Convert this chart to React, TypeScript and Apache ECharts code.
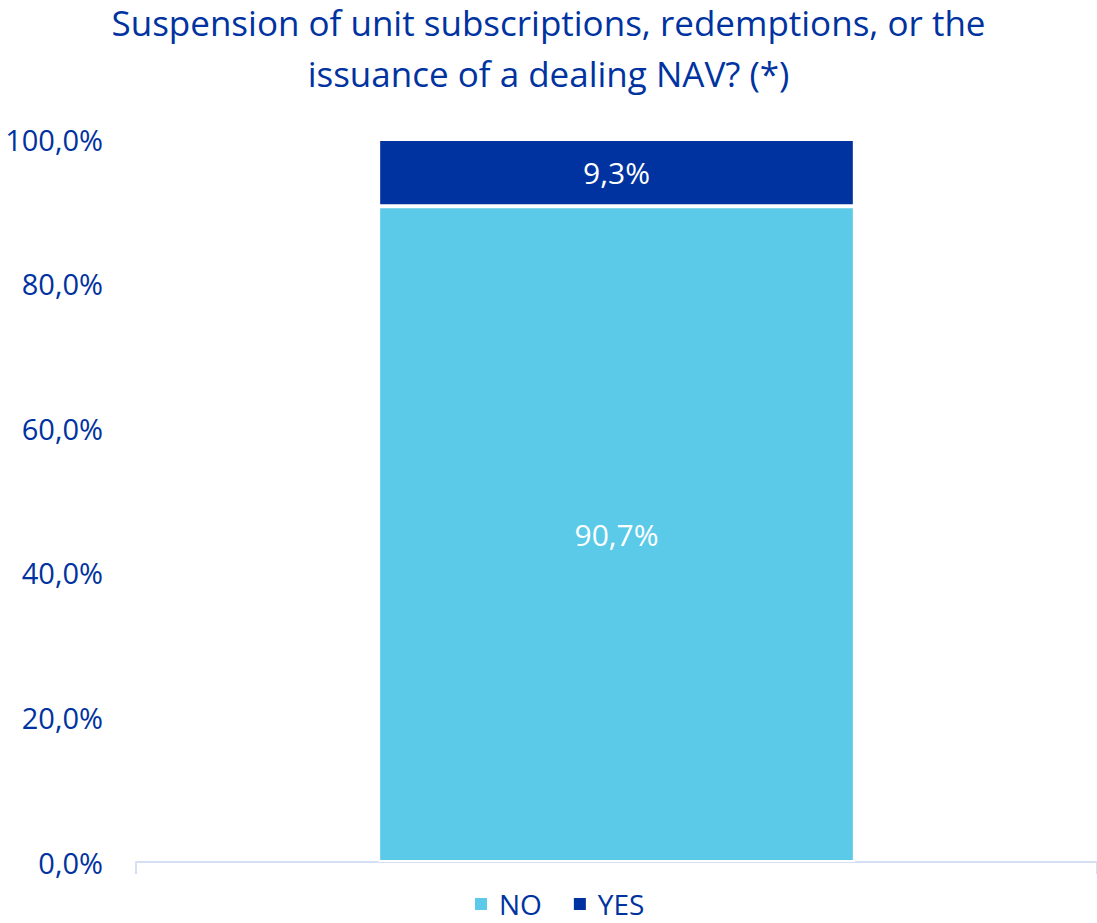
import React, { useEffect, useRef } from "react";
import * as echarts from "echarts";

const titleLines = ["Suspension of unit subscriptions, redemptions, or the", "issuance of a dealing NAV? (*)"];
const categories = [""];
const seriesNames = ["NO", "YES"];
const noValues = [90.7];
const yesValues = [9.3];
const colors = ["#5BC9E8", "#0033A0"];
const yTicks = { min: 0, max: 100, interval: 20 };

const fmt = (v: number) => v.toFixed(1).replace(".", ",") + "%";
const FONT = "'Open Sans', 'Noto Sans', sans-serif";

export default function App() {
  const ref = useRef<HTMLDivElement>(null);
  useEffect(() => {
    if (!ref.current) return;
    const chart = echarts.init(ref.current, undefined, { renderer: "svg" });
    chart.setOption({
      animation: false,
      backgroundColor: "#ffffff",
      title: titleLines.map((t, i) => ({
        text: t,
        left: "center",
        top: 2 + i * 51,
        padding: 0,
        textStyle: {
          color: "#0033A0",
          fontFamily: FONT,
          fontWeight: "normal",
          fontSize: 35,
          lineHeight: 40,
        },
      })),
      legend: {
        top: 889,
        left: 473,
        padding: 0,
        itemWidth: 14,
        itemHeight: 14,
        itemGap: 30,
        icon: "rect",
        textStyle: {
          color: "#0033A0",
          fontFamily: FONT,
          fontSize: 28,
          lineHeight: 30,
          padding: [0, 0, 0, 6],
        },
        data: seriesNames,
      },
      grid: { left: 136, right: 0, top: 139, bottom: 61, containLabel: false },
      xAxis: {
        type: "category",
        data: categories,
        axisLine: { lineStyle: { color: "#D6E0F5", width: 2 } },
        axisTick: { show: true, length: 12, lineStyle: { color: "#D6E0F5", width: 2 } },
        axisLabel: { show: false },
      },
      yAxis: {
        type: "value",
        min: yTicks.min,
        max: yTicks.max,
        interval: yTicks.interval,
        axisLine: { show: false },
        axisTick: { show: false },
        splitLine: { show: false },
        axisLabel: {
          color: "#0033A0",
          fontFamily: FONT,
          fontSize: 29,
          margin: 33,
          formatter: (v: number) => fmt(v),
        },
      },
      series: [
        {
          name: seriesNames[0],
          type: "bar",
          stack: "s",
          data: noValues,
          barWidth: "49.6%",
          itemStyle: { color: colors[0], borderColor: "#ffffff", borderWidth: 2 },
          label: {
            show: true,
            position: "inside",
            color: "#ffffff",
            fontFamily: FONT,
            fontSize: 30,
            formatter: (p: any) => fmt(p.value),
          },
        },
        {
          name: seriesNames[1],
          type: "bar",
          stack: "s",
          data: yesValues,
          barWidth: "49.6%",
          itemStyle: { color: colors[1], borderColor: "#ffffff", borderWidth: 2 },
          label: {
            show: true,
            position: "inside",
            color: "#ffffff",
            fontFamily: FONT,
            fontSize: 30,
            formatter: (p: any) => fmt(p.value),
          },
        },
      ],
    });
    return () => chart.dispose();
  }, []);
  return (
    <div
      ref={ref}
      style={{ position: "fixed", left: 0, top: 0, width: 1097, height: 923, background: "#fff" }}
    />
  );
}
